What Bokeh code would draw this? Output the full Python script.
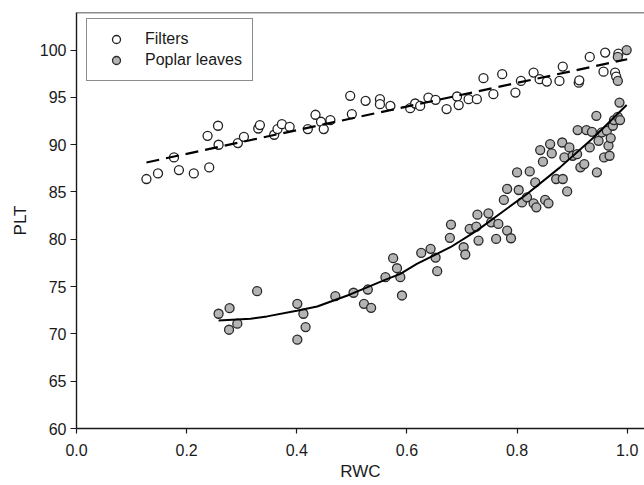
from bokeh.plotting import figure
from bokeh.models import Range1d, Legend, LegendItem, Span, FixedTicker, Title
from bokeh.embed import file_html
from bokeh.resources import INLINE

# ---- data ----
filters_rwc = [0.127, 0.148, 0.177, 0.186, 0.213, 0.241, 0.238, 0.257, 0.258, 0.293,
               0.304, 0.330, 0.333, 0.359, 0.365, 0.373, 0.387, 0.420, 0.434, 0.444,
               0.449, 0.461, 0.497, 0.500, 0.525, 0.551, 0.551, 0.570, 0.606, 0.615,
               0.624, 0.639, 0.652, 0.672, 0.691, 0.694, 0.712, 0.727, 0.739, 0.757,
               0.773, 0.797, 0.807, 0.830, 0.841, 0.854, 0.877, 0.883, 0.912, 0.913,
               0.932, 0.957, 0.960, 0.978, 0.984, 0.980]
filters_plt = [86.37, 86.96, 88.65, 87.32, 86.96, 87.60, 90.94, 92.00, 89.99, 90.17,
               90.83, 91.71, 92.07, 91.05, 91.65, 92.17, 91.89, 91.65, 93.16, 92.42,
               91.65, 92.60, 95.16, 93.23, 94.63, 94.81, 94.28, 94.10, 93.86, 94.35,
               94.10, 94.98, 94.74, 93.76, 95.09, 94.18, 94.81, 94.81, 97.03, 95.34,
               97.45, 95.51, 96.74, 97.62, 96.92, 96.67, 96.74, 98.25, 96.55, 96.80,
               99.27, 97.72, 99.73, 97.62, 99.62, 97.20]

poplar_rwc = [0.258, 0.278, 0.277, 0.292, 0.328, 0.401, 0.412, 0.416, 0.401, 0.470,
              0.503, 0.522, 0.529, 0.535, 0.561, 0.575, 0.582, 0.588, 0.591, 0.626,
              0.643, 0.652, 0.655, 0.678, 0.680, 0.703, 0.706, 0.714, 0.726, 0.730,
              0.753, 0.762, 0.766, 0.782, 0.789, 0.728, 0.748, 0.776, 0.782, 0.803,
              0.800, 0.809, 0.818, 0.823, 0.830, 0.833, 0.835, 0.842, 0.847, 0.851,
              0.857, 0.860, 0.863, 0.871, 0.882, 0.883, 0.886, 0.891, 0.895, 0.901,
              0.909, 0.915, 0.922, 0.910, 0.926, 0.936, 0.932, 0.944, 0.945, 0.948,
              0.954, 0.958, 0.963, 0.966, 0.968, 0.970, 0.974, 0.976, 0.983, 0.987,
              0.986, 0.983, 0.983, 0.999]
poplar_plt = [72.13, 72.72, 70.44, 71.08, 74.52, 73.18, 72.13, 70.72, 69.39, 73.99,
              74.35, 73.18, 74.69, 72.76, 75.99, 78.00, 76.94, 75.99, 74.06, 78.57,
              78.99, 78.07, 76.63, 80.15, 81.55, 79.16, 78.39, 81.10, 81.34, 79.86,
              81.79, 80.04, 81.62, 80.92, 80.11, 82.60, 82.74, 84.16, 85.32, 85.21,
              87.07, 83.90, 84.43, 87.17, 83.80, 86.01, 83.38, 89.43, 88.20, 84.16,
              83.80, 90.06, 89.07, 86.37, 90.23, 86.37, 88.65, 85.06, 89.71, 88.83,
              89.00, 87.60, 87.95, 91.54, 91.54, 91.36, 89.71, 93.05, 87.07, 90.41,
              91.29, 88.65, 91.47, 89.89, 88.83, 90.70, 92.00, 92.60, 92.94, 92.60,
              94.45, 96.74, 99.27, 100.00]

# fitted lines as drawn in the reference
filters_fit_rwc = [0.127, 1.000]
filters_fit_plt = [88.12, 99.03]
poplar_fit_rwc = [0.258, 0.316, 0.346, 0.400, 0.437, 0.497, 0.558, 0.588, 0.618,
                  0.649, 0.679, 0.727, 0.818, 0.878, 0.939, 0.999]
poplar_fit_plt = [71.42, 71.60, 71.85, 72.45, 72.90, 74.17, 75.65, 76.35, 77.40,
                  78.30, 79.16, 80.92, 84.79, 87.60, 90.76, 94.20]

x_ticks = [0.0, 0.2, 0.4, 0.6, 0.8, 1.0]
x_tick_labels = ["0.0", "0.2", "0.4", "0.6", "0.8", "1.0"]
y_ticks = [60, 65, 70, 75, 80, 85, 90, 95, 100]
x_title = "RWC"
y_title = "PLT"

FONT = "Liberation Sans"
INK = "#1a1a1a"

p = figure(width=644, height=485, output_backend="svg", toolbar_location=None,
           x_range=Range1d(0, 1.0314), y_range=Range1d(60, 103.97),
           min_border_left=76, min_border_right=0, min_border_top=12,
           min_border_bottom=57)
p.outline_line_color = None
p.xgrid.visible = False
p.ygrid.visible = False
p.background_fill_color = "white"
p.border_fill_color = "white"

f_r = p.scatter(filters_rwc, filters_plt, size=9, marker="circle",
                fill_color="white", line_color="#222222", line_width=1.3)
p_r = p.scatter(poplar_rwc, poplar_plt, size=9, marker="circle",
                fill_color="#b4b4b4", line_color="#2a2a2a", line_width=1.3)
p.line(filters_fit_rwc, filters_fit_plt, line_color="black", line_width=2.2,
       line_dash="13 7")
p.line(poplar_fit_rwc, poplar_fit_plt, line_color="black", line_width=2)

# top frame line
p.add_layout(Span(location=103.97, dimension="width", line_color=INK, line_width=1.5))

for ax in (p.xaxis[0], p.yaxis[0]):
    ax.axis_line_color = INK
    ax.axis_line_width = 1.4
    ax.major_tick_line_color = INK
    ax.major_tick_line_width = 1.2
    ax.major_tick_in = 0
    ax.minor_tick_line_color = None
    ax.major_label_text_font = FONT
    ax.major_label_text_font_size = "16px"
    ax.major_label_text_color = INK

p.xaxis.ticker = FixedTicker(ticks=x_ticks)
p.xaxis.major_label_overrides = {t: l for t, l in zip(x_ticks, x_tick_labels)}
p.xaxis.major_tick_out = 5
p.xaxis.major_label_standoff = 10

p.yaxis.ticker = FixedTicker(ticks=y_ticks)
p.yaxis.major_tick_out = 6
p.yaxis.major_label_standoff = 4

# axis titles, placed as in the reference
p.add_layout(Title(text=x_title, align="center", offset=-18, standoff=2,
                   text_font=FONT, text_font_size="17px", text_font_style="normal",
                   text_color=INK), "below")
p.add_layout(Title(text=y_title, align="center", offset=-26, standoff=13,
                   text_font=FONT, text_font_size="17px", text_font_style="normal",
                   text_color=INK), "left")

legend = Legend(items=[LegendItem(label="Filters", renderers=[f_r]),
                       LegendItem(label="Poplar leaves", renderers=[p_r])],
                location=(10, 347))
legend.label_text_font = FONT
legend.label_text_font_size = "16px"
legend.label_text_color = INK
legend.border_line_color = INK
legend.border_line_width = 1.2
legend.padding = 10
legend.spacing = 1
legend.glyph_width = 38
legend.glyph_height = 20
legend.label_standoff = 10
legend.margin = 0
legend.background_fill_alpha = 1
p.add_layout(legend)

open("out.html", "w").write(file_html(p, INLINE))
